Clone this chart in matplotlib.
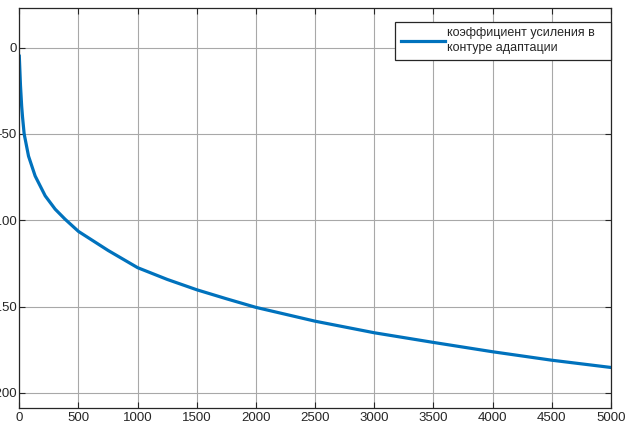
import numpy as np
import matplotlib
matplotlib.use('Agg')
import matplotlib.pyplot as plt

plt.rcParams['font.family'] = ['Liberation Sans', 'DejaVu Sans']

# values
iterations = [0, 10, 20, 27, 41, 78, 134, 219, 303, 388, 500, 750, 1000, 1250,
              1500, 1750, 2000, 2500, 3000, 3500, 4000, 4500, 5000]
gain = [-5, -22, -34, -40, -50, -62.9, -74.4, -85.9, -93.6, -99.5, -106.5, -117.5,
        -127.5, -134.3, -140.3, -145.5, -150.5, -158.5, -165.2, -170.8, -176.2,
        -181.1, -185.3]
xticks = [0, 500, 1000, 1500, 2000, 2500, 3000, 3500, 4000, 4500, 5000]
yticks = [0, -50, -100, -150, -200]
label = 'коэффициент усиления в   \nконтуре адаптации'

fig = plt.figure(figsize=(6.29, 4.25), dpi=100)
ax = fig.add_axes([19.3 / 629, 1 - 407.7 / 425, (611 - 19.3) / 629, (407.7 - 7.5) / 425])

ax.plot(iterations, gain, color='#0072BD', lw=2.3, label=label)

ax.set_xlim(0, 5000)
ax.set_ylim(-208.6, 23.2)
ax.set_xticks(xticks)
ax.set_yticks(yticks)
ax.set_yticklabels([str(v) for v in yticks])

ax.grid(True, color='#a8a8a8', lw=0.8)
ax.set_axisbelow(True)
ax.tick_params(direction='in', length=4, width=0.8, colors='#262626',
               labelsize=9.5, top=True, right=True)
ax.tick_params(axis='x', pad=3)
ax.tick_params(axis='y', pad=1.8)
for s in ax.spines.values():
    s.set_color('#262626')
    s.set_linewidth(0.9)

leg = ax.legend(loc='upper right', bbox_to_anchor=(611 / 629, 1 - 21.7 / 425),
                bbox_transform=fig.transFigure, borderaxespad=0,
                fancybox=False, framealpha=1, edgecolor='#262626',
                fontsize=9, handlelength=3.5, handletextpad=0.2,
                borderpad=0.45, labelspacing=0.2)
leg.get_frame().set_linewidth(0.9)
for t in leg.get_texts():
    t.set_color('#262626')
    t.set_linespacing(1.35)

fig.savefig('out.png', dpi=100)
